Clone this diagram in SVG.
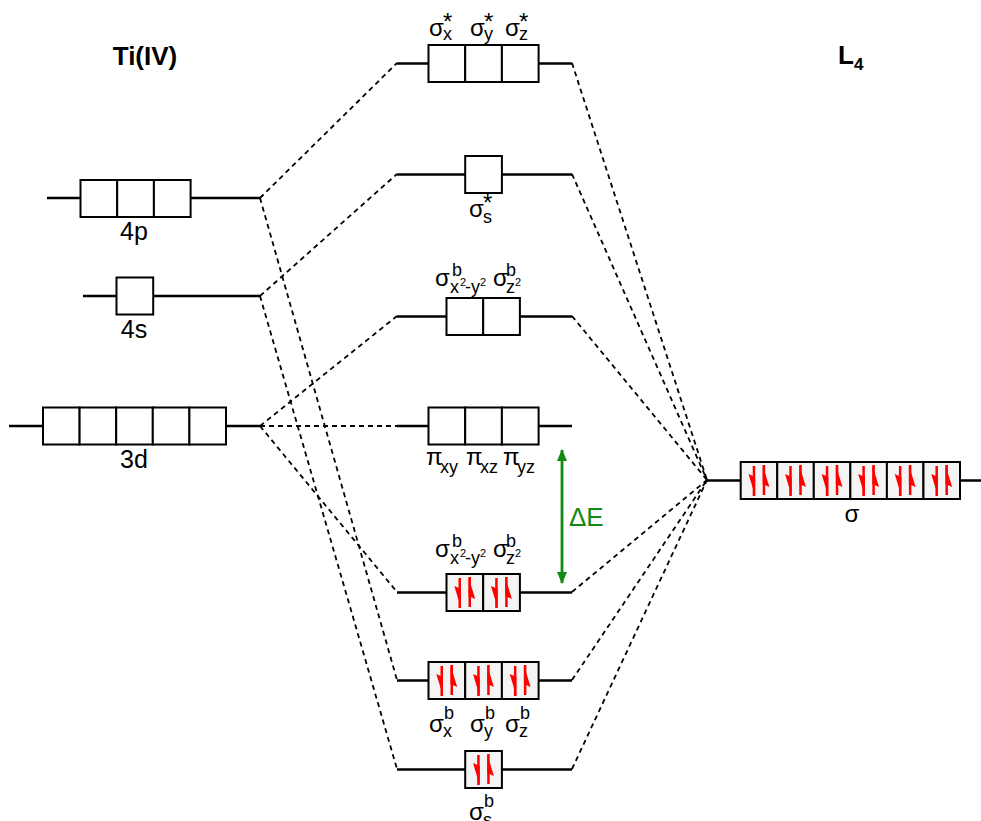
<svg xmlns="http://www.w3.org/2000/svg" xmlns:xlink="http://www.w3.org/1999/xlink" width="981" height="821" viewBox="0 0 981 821">
  <style>
    .lvl { stroke: #000; stroke-width: 2.6; fill: none; }
    .box { stroke: #000; stroke-width: 2; fill: #fff; }
    .fbox { stroke: #000; stroke-width: 2; fill: #f4f4f4; }
    .dash { stroke: #000; stroke-width: 1.8; stroke-dasharray: 5 4; fill: none; }
    .t { font-family: "Liberation Sans", Arial, sans-serif; font-size: 24px; fill: #000; }
    .n { font-family: "Liberation Sans", Arial, sans-serif; font-size: 25px; fill: #000; }
    .s { font-family: "Liberation Sans", Arial, sans-serif; font-size: 18px; fill: #000; }
    .st { font-family: "Liberation Sans", Arial, sans-serif; font-size: 24px; fill: #000; }
    .ss { font-family: "Liberation Sans", Arial, sans-serif; font-size: 11px; fill: #000; }
    .h { font-family: "Liberation Sans", Arial, sans-serif; font-size: 26px; font-weight: bold; fill: #000; }
    .g { font-family: "Liberation Sans", Arial, sans-serif; font-size: 26px; fill: #138a13; }
  </style>
  <defs>
    <!-- paired electrons inside one orbital box (box origin at 0,0) -->
    <g id="pair" fill="#ff0000">
      <rect x="12" y="4" width="2.5" height="30"/>
      <polygon points="7.8,12 14.5,15 14.5,34"/>
      <rect x="22" y="3" width="2.5" height="30"/>
      <polygon points="22,3 22,22 28.7,25"/>
    </g>
    <marker id="ah" viewBox="0 0 12 10" refX="11" refY="5" markerWidth="12" markerHeight="10" orient="auto-start-reverse" markerUnits="userSpaceOnUse">
      <path d="M0,0 L12,5 L0,10 Z" fill="#138a13"/>
    </marker>
  </defs>

  <!-- headers -->
  <text class="h" x="145" y="65" text-anchor="middle">Ti(IV)</text>
  <text class="h" x="838" y="64" font-size="25">L<tspan font-size="17" dy="6">4</tspan></text>

  <!-- correlation lines -->
  <g id="connectors">
    <line class="dash" x1="260" y1="198" x2="397" y2="63"/>
    <line class="dash" x1="260" y1="198" x2="397" y2="680"/>
    <line class="dash" x1="260" y1="296" x2="397" y2="174"/>
    <line class="dash" x1="260" y1="296" x2="397" y2="769"/>
    <line class="dash" x1="260" y1="426" x2="397" y2="316"/>
    <line class="dash" x1="260" y1="426" x2="397" y2="426"/>
    <line class="dash" x1="260" y1="426" x2="397" y2="592"/>
    <line class="dash" x1="572" y1="63" x2="707" y2="480"/>
    <line class="dash" x1="572" y1="174" x2="707" y2="480"/>
    <line class="dash" x1="572" y1="316" x2="707" y2="480"/>
    <line class="dash" x1="572" y1="592" x2="707" y2="480"/>
    <line class="dash" x1="572" y1="680" x2="707" y2="480"/>
    <line class="dash" x1="572" y1="769" x2="707" y2="480"/>
  </g>

  <!-- metal orbitals -->
  <g id="ti-4p">
    <line class="lvl" x1="47" y1="198" x2="260" y2="198"/>
    <rect class="box" x="80.5" y="180" width="36.7" height="37"/>
    <rect class="box" x="117.2" y="180" width="36.7" height="37"/>
    <rect class="box" x="153.9" y="180" width="36.7" height="37"/>
    <text class="n" x="134" y="240" text-anchor="middle">4p</text>
  </g>
  <g id="ti-4s">
    <line class="lvl" x1="83" y1="296" x2="260" y2="296"/>
    <rect class="box" x="116.5" y="277.5" width="36.7" height="37"/>
    <text class="n" x="134" y="338" text-anchor="middle">4s</text>
  </g>
  <g id="ti-3d">
    <line class="lvl" x1="9" y1="426" x2="260" y2="426"/>
    <rect class="box" x="43" y="407.5" width="36.6" height="37"/>
    <rect class="box" x="79.6" y="407.5" width="36.6" height="37"/>
    <rect class="box" x="116.2" y="407.5" width="36.6" height="37"/>
    <rect class="box" x="152.8" y="407.5" width="36.6" height="37"/>
    <rect class="box" x="189.4" y="407.5" width="36.6" height="37"/>
    <text class="n" x="134" y="468" text-anchor="middle">3d</text>
  </g>

  <!-- molecular orbitals -->
  <g id="mo-sigma-p-star">
    <line class="lvl" x1="397" y1="63.5" x2="572" y2="63.5"/>
    <rect class="box" x="428.5" y="45" width="36.7" height="37"/>
    <rect class="box" x="465.2" y="45" width="36.7" height="37"/>
    <rect class="box" x="501.9" y="45" width="36.7" height="37"/>
    <text class="t" x="429" y="36">σ</text><text class="s" x="443" y="40">x</text><text class="st" x="443" y="30">*</text>
    <text class="t" x="470" y="36">σ</text><text class="s" x="484" y="40">y</text><text class="st" x="484" y="30">*</text>
    <text class="t" x="505" y="36">σ</text><text class="s" x="519" y="40">z</text><text class="st" x="519" y="30">*</text>
  </g>
  <g id="mo-sigma-s-star">
    <line class="lvl" x1="397" y1="174.5" x2="572" y2="174.5"/>
    <rect class="box" x="465.2" y="156" width="36.7" height="37"/>
    <text class="t" x="469" y="217">σ</text><text class="s" x="483" y="223">s</text><text class="st" x="483" y="211">*</text>
  </g>
  <g id="mo-eg-star">
    <line class="lvl" x1="397" y1="316.5" x2="572" y2="316.5"/>
    <rect class="box" x="446.5" y="298" width="36.7" height="37"/>
    <rect class="box" x="483.2" y="298" width="36.7" height="37"/>
    <text class="t" x="435" y="286">σ</text><text class="s" x="452" y="276">b</text><text class="s" x="450" y="293">x</text><text class="ss" x="460" y="286">2</text><text class="s" x="465" y="293">-y</text><text class="ss" x="480" y="286">2</text>
    <text class="t" x="493" y="286">σ</text><text class="s" x="506" y="276">b</text><text class="s" x="506" y="293">z</text><text class="ss" x="515" y="286">2</text>
  </g>
  <g id="mo-pi">
    <line class="lvl" x1="397" y1="426" x2="572" y2="426"/>
    <rect class="box" x="428.5" y="407.5" width="36.7" height="37"/>
    <rect class="box" x="465.2" y="407.5" width="36.7" height="37"/>
    <rect class="box" x="501.9" y="407.5" width="36.7" height="37"/>
    <text class="t" x="426" y="465">π</text><text class="s" x="440" y="473">xy</text>
    <text class="t" x="466" y="465">π</text><text class="s" x="480" y="473">xz</text>
    <text class="t" x="503" y="465">π</text><text class="s" x="517" y="473">yz</text>
  </g>
  <g id="mo-eg-bonding">
    <line class="lvl" x1="397" y1="592.5" x2="572" y2="592.5"/>
    <rect class="fbox" x="446.5" y="574" width="36.7" height="37"/>
    <rect class="fbox" x="483.2" y="574" width="36.7" height="37"/>
    <use xlink:href="#pair" x="446.5" y="574"/>
    <use xlink:href="#pair" x="483.2" y="574"/>
    <text class="t" x="435" y="557">σ</text><text class="s" x="452" y="547">b</text><text class="s" x="450" y="564">x</text><text class="ss" x="460" y="557">2</text><text class="s" x="465" y="564">-y</text><text class="ss" x="480" y="557">2</text>
    <text class="t" x="493" y="557">σ</text><text class="s" x="506" y="547">b</text><text class="s" x="506" y="564">z</text><text class="ss" x="515" y="557">2</text>
  </g>
  <g id="mo-sigma-p-bonding">
    <line class="lvl" x1="397" y1="680.5" x2="572" y2="680.5"/>
    <rect class="fbox" x="428.5" y="662" width="36.7" height="37"/>
    <rect class="fbox" x="465.2" y="662" width="36.7" height="37"/>
    <rect class="fbox" x="501.9" y="662" width="36.7" height="37"/>
    <use xlink:href="#pair" x="428.5" y="662"/>
    <use xlink:href="#pair" x="465.2" y="662"/>
    <use xlink:href="#pair" x="501.9" y="662"/>
    <text class="t" x="429" y="732">σ</text><text class="s" x="443" y="737">x</text><text class="s" x="444" y="719">b</text>
    <text class="t" x="470" y="732">σ</text><text class="s" x="484" y="737">y</text><text class="s" x="485" y="719">b</text>
    <text class="t" x="505" y="732">σ</text><text class="s" x="519" y="737">z</text><text class="s" x="520" y="719">b</text>
  </g>
  <g id="mo-sigma-s-bonding">
    <line class="lvl" x1="397" y1="769.5" x2="572" y2="769.5"/>
    <rect class="fbox" x="465.2" y="751" width="36.7" height="37"/>
    <use xlink:href="#pair" x="465.2" y="751"/>
    <text class="t" x="469" y="820">σ</text><text class="s" x="483" y="826">s</text><text class="s" x="484" y="807">b</text>
  </g>

  <!-- ligand orbitals -->
  <g id="ligand-sigma">
    <line class="lvl" x1="707" y1="480.5" x2="981" y2="480.5"/>
    <rect class="fbox" x="740.7" y="462" width="36.55" height="37"/>
    <rect class="fbox" x="777.25" y="462" width="36.55" height="37"/>
    <rect class="fbox" x="813.8" y="462" width="36.55" height="37"/>
    <rect class="fbox" x="850.35" y="462" width="36.55" height="37"/>
    <rect class="fbox" x="886.9" y="462" width="36.55" height="37"/>
    <rect class="fbox" x="923.45" y="462" width="36.55" height="37"/>
    <use xlink:href="#pair" x="740.7" y="462"/>
    <use xlink:href="#pair" x="777.25" y="462"/>
    <use xlink:href="#pair" x="813.8" y="462"/>
    <use xlink:href="#pair" x="850.35" y="462"/>
    <use xlink:href="#pair" x="886.9" y="462"/>
    <use xlink:href="#pair" x="923.45" y="462"/>
    <text class="t" x="852" y="522" text-anchor="middle">σ</text>
  </g>

  <!-- ligand-field splitting -->
  <g id="delta-e">
    <line x1="562" y1="450" x2="562" y2="583" stroke="#138a13" stroke-width="2.8" marker-start="url(#ah)" marker-end="url(#ah)"/>
    <text class="g" x="569" y="526">ΔE</text>
  </g>
</svg>
